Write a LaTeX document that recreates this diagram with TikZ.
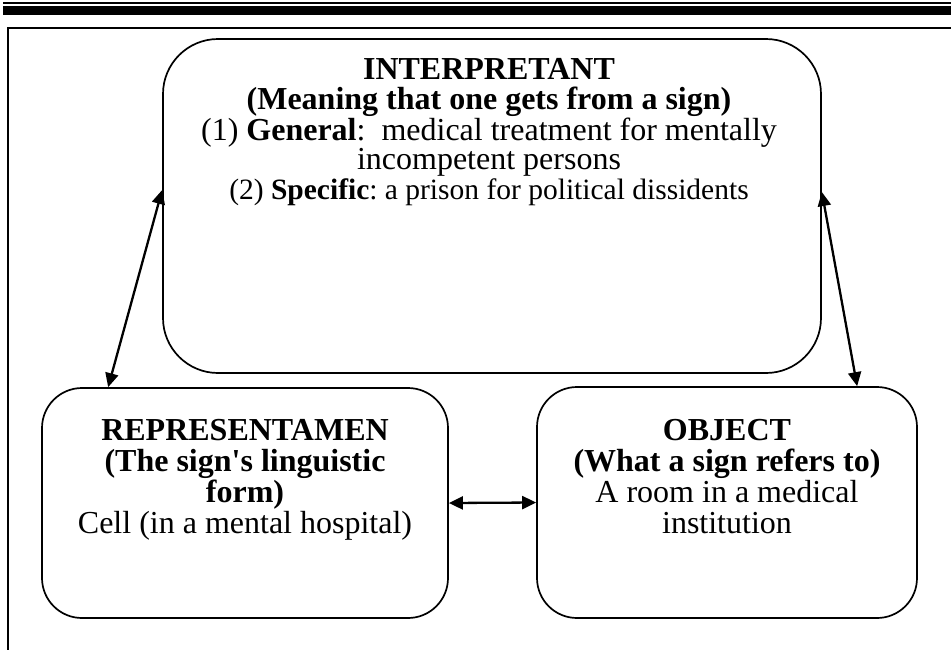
\documentclass[tikz,border=0pt]{standalone}
\usepackage{fontspec}
\setmainfont{Liberation Serif}[Ligatures=TeXOff]
\usetikzlibrary{arrows.meta,calc}

\begin{document}
\frenchspacing
\begin{tikzpicture}[x=1pt,y=-1pt,
  box/.style={draw, line width=1.7pt, rounded corners=#1, inner sep=0pt},
  box/.default=40pt,
  link/.style={line width=2.3pt,
    {Triangle[length=14pt,width=13pt]}-{Triangle[length=14pt,width=13pt]}},
  txt/.style={align=center, inner sep=0pt, font=\fontsize{32}{#1}\selectfont},
  txt/.default=31,
  rule/.style={line width=2.5pt}
]
\useasboundingbox (0,0) rectangle (951,649);

% page header rules and frame
\draw[line width=2pt] (3,3) -- (951,3);
\fill (3,6) rectangle (951,15);
\draw[rule, line cap=rect] (8,649) -- (8,28) -- (951,28);

% the three boxes
\node[box=55pt, minimum width=658pt, minimum height=334pt] (interp) at (492,206) {};
\node[box, minimum width=406pt, minimum height=230pt] (rep) at (245,503) {};
\node[box, minimum width=380pt, minimum height=231pt] (obj) at (727,502.5) {};

% texts (anchored at the baseline of their last line)
\node[txt=29.5, anchor=base] (interpT) at (489,199) {\textbf{INTERPRETANT}\\
  \textbf{(Meaning that one gets from a sign)}\\
  (1) \textbf{General}:\ \ medical treatment for mentally\\
  incompetent persons\\
  {\fontsize{29.5}{29.5}\selectfont(2) \textbf{Specific}: a prison for political dissidents}};
\node[txt, anchor=base] (repT) at (245,533) {\textbf{REPRESENTAMEN}\\
  \textbf{(The sign's linguistic}\\
  \textbf{form)}\\
  Cell (in a mental hospital)};
\node[txt, anchor=base] (objT) at (727,533) {\textbf{OBJECT}\\
  \textbf{(What a sign refers to)}\\
  A room in a medical\\
  institution};

% connectors
\draw[link] ($(rep.north west)+(67,0)$) -- ($(interp.west)+(0,-16)$);
\draw[link] ($(obj.north west)+(321,0)$) -- ($(interp.east)+(0,-14)$);
\draw[link] (rep.east) -- (obj.west);
\end{tikzpicture}
\end{document}
